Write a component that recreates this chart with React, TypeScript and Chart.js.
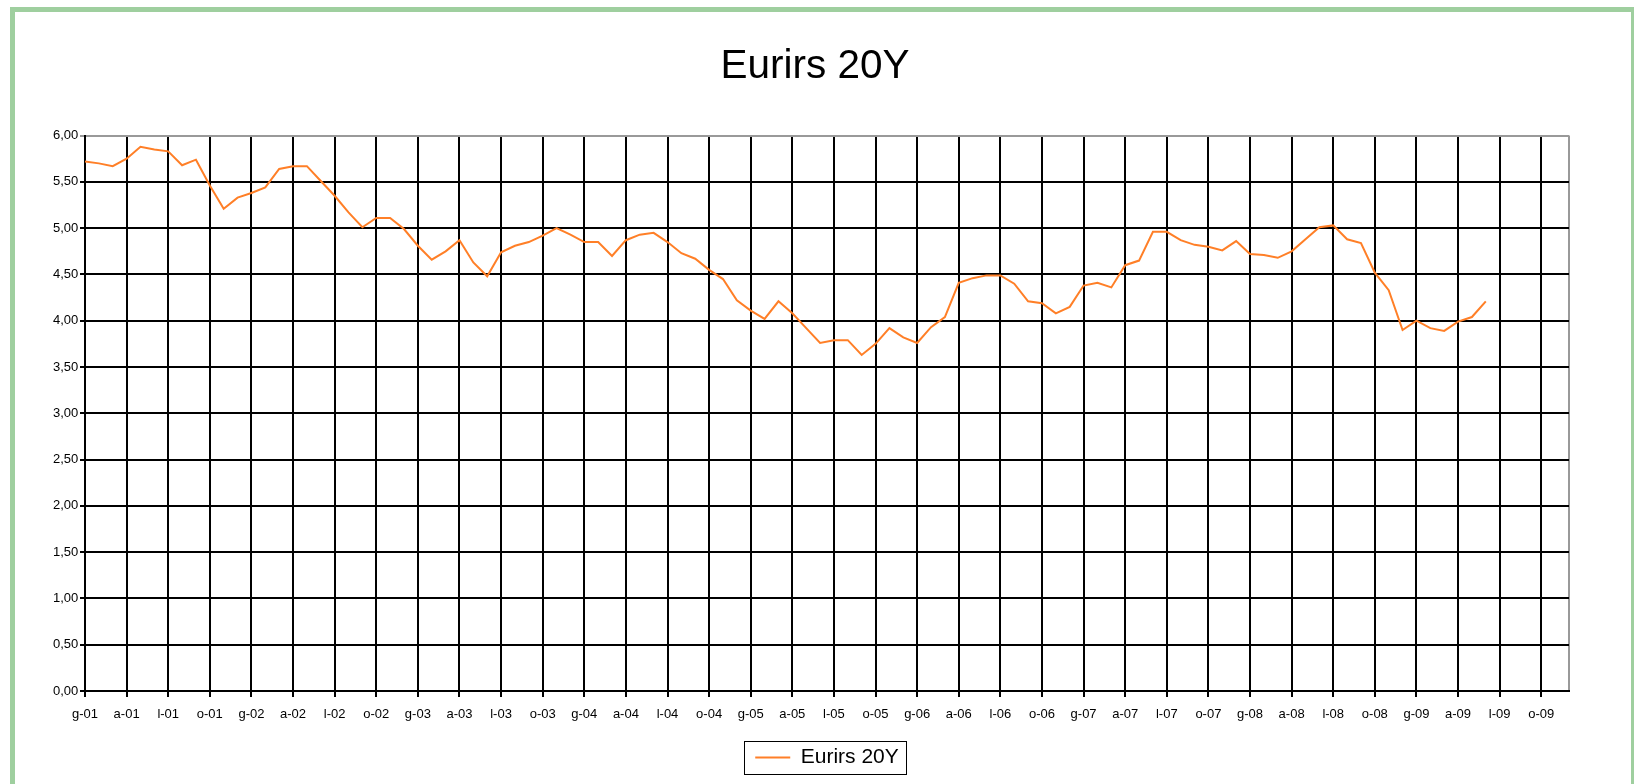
import React, { useEffect, useRef } from 'react';
import { Chart, registerables } from 'chart.js';

Chart.register(...registerables);

const FONT_FAMILY = '"Liberation Sans", Arial, Helvetica, sans-serif';

// Italian month initials (gennaio ... dicembre)
const MONTH_INITIALS = ['g', 'f', 'm', 'a', 'm', 'g', 'l', 'a', 's', 'o', 'n', 'd'];
const YEARS = ['01', '02', '03', '04', '05', '06', '07', '08', '09'];
const CATEGORIES: string[] = YEARS.flatMap((y) => MONTH_INITIALS.map((m) => `${m}-${y}`));

const SERIES_LABEL = 'Eurirs 20Y';
const TITLE = 'Eurirs 20Y';

// Monthly values, Jan 2001 - Jun 2009
const EURIRS_20Y = [
  5.72, 5.70, 5.67, 5.75, 5.88, 5.85, 5.83, 5.68, 5.74, 5.46, 5.21, 5.33,
  5.38, 5.44, 5.64, 5.67, 5.67, 5.51, 5.35, 5.17, 5.01, 5.11, 5.11, 4.99,
  4.81, 4.66, 4.75, 4.87, 4.63, 4.48, 4.74, 4.81, 4.85, 4.92, 5.00, 4.93,
  4.85, 4.85, 4.70, 4.87, 4.93, 4.95, 4.85, 4.73, 4.67, 4.55, 4.45, 4.22,
  4.11, 4.02, 4.21, 4.08, 3.92, 3.76, 3.79, 3.79, 3.63, 3.75, 3.92, 3.82,
  3.76, 3.93, 4.04, 4.41, 4.46, 4.49, 4.49, 4.40, 4.21, 4.19, 4.08, 4.15,
  4.38, 4.41, 4.36, 4.60, 4.65, 4.96, 4.96, 4.87, 4.82, 4.80, 4.76, 4.86,
  4.72, 4.71, 4.68, 4.75, 4.88, 5.01, 5.03, 4.88, 4.84, 4.52, 4.33, 3.90,
  4.00, 3.92, 3.89, 3.99, 4.04, 4.21,
];

const Y_MIN = 0;
const Y_MAX = 6;
const Y_STEP = 0.5;
const LABEL_EVERY = 3;

const legendBorder = {
  id: 'legendBorder',
  afterDraw(chart: any) {
    const lg = chart.legend;
    const hb = lg && lg.legendHitBoxes && lg.legendHitBoxes[0];
    if (!hb) return;
    const ctx = chart.ctx;
    ctx.save();
    ctx.strokeStyle = '#000';
    ctx.lineWidth = 1;
    const x = Math.round(hb.left - 11) + 0.5;
    const y = Math.round(hb.top - 6) + 0.5;
    const w = Math.round(hb.width + 18);
    const h = Math.round(hb.height + 12);
    ctx.strokeRect(x, y, w, h);
    ctx.restore();
  },
};

export default function App() {
  const canvasRef = useRef<HTMLCanvasElement | null>(null);

  useEffect(() => {
    const canvas = canvasRef.current;
    if (!canvas) return;
    const lastIndex = CATEGORIES.length - 1;
    const chart = new Chart(canvas, {
      type: 'line',
      data: {
        labels: CATEGORIES,
        datasets: [
          {
            label: SERIES_LABEL,
            data: EURIRS_20Y,
            borderColor: '#ff7f27',
            backgroundColor: '#ff7f27',
            borderWidth: 2,
            pointRadius: 0,
            pointStyle: 'line',
            tension: 0,
            fill: false,
          },
        ],
      },
      options: {
        animation: false,
        responsive: false,
        maintainAspectRatio: false,
        layout: { padding: { left: 46, right: 62, top: 0, bottom: 6 } },
        plugins: {
          title: {
            display: true,
            text: TITLE,
            color: '#000',
            font: { family: FONT_FAMILY, size: 40.5, weight: 'normal' },
            padding: { top: 31, bottom: 44 },
          },
          legend: {
            display: true,
            position: 'bottom',
            fullSize: false,
            labels: {
              color: '#000',
              font: { family: FONT_FAMILY, size: 21 },
              usePointStyle: true,
              pointStyle: 'line',
              pointStyleWidth: 35,
              padding: 10,
            },
          },
          tooltip: { enabled: false },
        },
        scales: {
          x: {
            type: 'category',
            offset: false,
            ticks: {
              autoSkip: false,
              maxRotation: 0,
              minRotation: 0,
              padding: 10,
              color: '#000',
              font: { family: FONT_FAMILY, size: 13 },
              callback: (_v: any, i: number) => (i % LABEL_EVERY === 0 ? CATEGORIES[i] : ''),
            },
            grid: {
              offset: false,
              lineWidth: 2,
              tickLength: 6,
              color: (ctx: any) =>
                ctx.index % LABEL_EVERY === 0 ? '#000' : ctx.index === lastIndex ? '#999' : 'rgba(0,0,0,0)',
              tickColor: (ctx: any) => (ctx.index % LABEL_EVERY === 0 ? '#000' : 'rgba(0,0,0,0)'),
            },
            border: { color: '#000', width: 2 },
            afterFit: (s: any) => {
              s.height = 46;
            },
          },
          y: {
            min: Y_MIN,
            max: Y_MAX,
            ticks: {
              stepSize: Y_STEP,
              mirror: true,
              crossAlign: 'near',
              padding: -32,
              color: '#000',
              font: { family: FONT_FAMILY, size: 13 },
              callback: (v: any) => Number(v).toFixed(2).replace('.', ','),
            },
            grid: {
              lineWidth: 2,
              tickLength: 5,
              color: (ctx: any) => (ctx.tick && ctx.tick.value === Y_MAX ? '#999' : '#000'),
              tickColor: (ctx: any) => (ctx.tick && ctx.tick.value === Y_MAX ? '#999' : '#000'),
            },
            border: { color: '#000', width: 2 },
            afterFit: (s: any) => {
              s.width = 24;
            },
          },
        },
      },
      plugins: [legendBorder],
    } as any);
    return () => chart.destroy();
  }, []);

  return (
    <div>
      <div
        style={{
          position: 'absolute',
          left: 10,
          top: 7,
          width: 1624,
          height: 777,
          boxSizing: 'border-box',
          borderTop: '5px solid #9fcf9f',
          borderLeft: '5px solid #9fcf9f',
          borderRight: '3px solid #9fcf9f',
          borderBottom: 'none',
          background: '#fff',
        }}
      />
      <canvas
        ref={canvasRef}
        width={1616}
        height={772}
        style={{ position: 'absolute', left: 15, top: 12, width: 1616, height: 772 }}
      />
    </div>
  );
}
